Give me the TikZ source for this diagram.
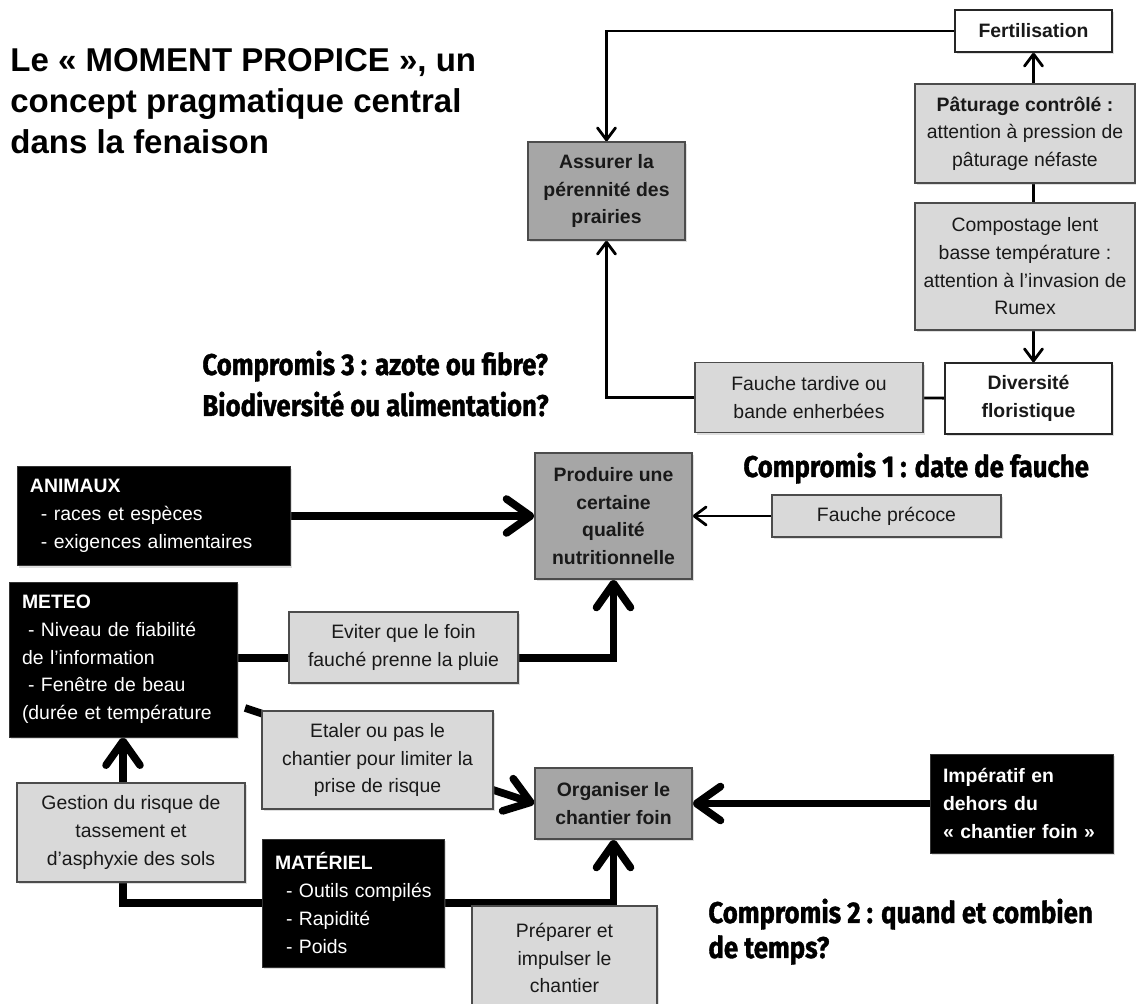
\documentclass[tikz,border=0pt]{standalone}
\usepackage{fontspec}
\setmainfont{Liberation Sans}
\newfontfamily\compfont[FakeStretch=0.86,FakeBold=1.2]{Fira Sans}
\usetikzlibrary{arrows.meta,shadows,backgrounds}
\definecolor{lgray}{RGB}{217,217,217}
\definecolor{dgray}{RGB}{166,166,166}
\begin{document}
\begin{tikzpicture}[x=0.5pt,y=-0.5pt,font=\fontsize{9.7}{13.85}\selectfont,
 bx/.style={draw=black!70,line width=0.7pt,align=center,inner sep=0pt,text=black!90,drop shadow={shadow xshift=1.2pt,shadow yshift=-1.2pt,opacity=0.25}},
 gb/.style={bx,fill=lgray},
 db/.style={bx,fill=dgray,font=\fontsize{9.7}{13.85}\selectfont\bfseries},
 wb/.style={bx,fill=white,draw=black!85,font=\fontsize{9.7}{13.85}\selectfont\bfseries},
 kb/.style={fill=black,text=white,align=left,inner xsep=6.5pt,inner ysep=0pt,draw=black!80,drop shadow={shadow xshift=1.2pt,shadow yshift=-1.2pt,opacity=0.25}},
 ln/.style={line width=1.4pt},
 lnar/.style={ln,-{Straight Barb[length=6pt,width=9pt,round]}},
 tk/.style={line width=3.8pt},
 tkar/.style={tk,-{Straight Barb[length=12pt,width=17pt,round]}},
 cp/.style={anchor=base west,inner sep=0pt,align=left,font=\compfont\bfseries\fontsize{15}{20.5}\selectfont}]
\useasboundingbox (0,0) rectangle (1136,1004);
\node[anchor=base west,inner sep=0pt,align=left,font=\bfseries\fontsize{16.5}{20.5}\selectfont] (title) at (10,154) {Le « MOMENT PROPICE », un\\concept pragmatique central\\dans la fenaison};
\node[cp] (c3) at (202,416) {Compromis 3 : azote ou fibre?\\Biodiversité ou alimentation?};
\node[cp] (c1) at (743,477) {Compromis 1 : date de fauche};
\node[cp,font=\compfont\bfseries\fontsize{15}{17.5}\selectfont] (c2) at (708,958) {Compromis 2 : quand et combien\\de temps?};
\node[wb,minimum width=78.5pt,minimum height=21pt] (fertil) at (1033.5,31) {Fertilisation};
\node[gb,minimum width=110pt,minimum height=49.5pt] (patur) at (1025,133.5) {\textbf{Pâturage contrôlé :}\\attention à pression de\\pâturage néfaste};
\node[gb,minimum width=110pt,minimum height=63.5pt] (compost) at (1025,266.5) {Compostage lent\\basse température :\\attention à l'invasion de\\Rumex};
\node[wb,minimum width=83.5pt,minimum height=35.5pt] (divers) at (1028.5,398.5) {Diversité\\floristique};
\node[gb,minimum width=114pt,minimum height=35pt] (tardive) at (809,397.5) {Fauche tardive ou\\bande enherbées};
\node[db,minimum width=78.5pt,minimum height=49pt] (assurer) at (606.5,191) {Assurer la\\pérennité des\\prairies};
\node[db,minimum width=78.5pt,minimum height=63pt] (produire) at (613.5,516) {Produire une\\certaine\\qualité\\nutritionnelle};
\node[gb,minimum width=114.5pt,minimum height=21pt] (precoce) at (886.5,516) {Fauche précoce};
\node[kb,text width=123.5pt,minimum height=49.5pt] (animaux) at (153.5,516) {\textbf{ANIMAUX}\\\hspace*{5.5pt}- races et espèces\\\hspace*{5.5pt}- exigences alimentaires};
\node[kb,text width=101pt,minimum height=77.5pt] (meteo) at (123,659.5) {\textbf{METEO}\\\hspace*{3pt}- Niveau de fiabilité\\de l’information\\\hspace*{3pt}- Fenêtre de beau\\(durée et température};
\node[gb,minimum width=114.5pt,minimum height=35.5pt] (eviter) at (403.5,647.5) {Eviter que le foin\\fauché prenne la pluie};
\node[gb,minimum width=115.5pt,minimum height=49pt] (etaler) at (377.5,760) {Etaler ou pas le\\chantier pour limiter la\\prise de risque};
\node[gb,minimum width=114pt,minimum height=49.5pt] (gestion) at (131,832.5) {Gestion du risque de\\tassement et\\d’asphyxie des sols};
\node[db,minimum width=78.5pt,minimum height=35.5pt] (organiser) at (613.5,803.5) {Organiser le\\chantier foin};
\node[kb,text width=78.5pt,minimum height=49.5pt,font=\fontsize{9.7}{13.85}\selectfont\bfseries] (imperatif) at (1021.5,803.5) {Impératif en\\dehors du\\\mbox{« chantier foin »}};
\node[kb,text width=78pt,minimum height=64pt] (materiel) at (353,903) {\textbf{MATÉRIEL}\\\mbox{\hspace*{5.5pt}- Outils compilés}\\\hspace*{5.5pt}- Rapidité\\\hspace*{5.5pt}- Poids};
\node[gb,minimum width=92.5pt,minimum height=52pt] (preparer) at (564.5,958) {Préparer et\\impulser le\\chantier};
\begin{pgfonlayer}{background}
\draw[lnar] (fertil.west) -| (assurer.north);
\draw[lnar] (tardive.west) -| (assurer.south);
\draw[ln] (divers) -- (tardive);
\draw[lnar] (patur.north -| fertil) -- (fertil.south);
\draw[ln] (patur.south -| fertil) -- (compost.north -| fertil);
\draw[lnar] (compost.south -| fertil) -- (divers.north -| fertil);
\draw[tkar] (animaux) -- (produire);
\draw[lnar] (precoce) -- (produire);
\coordinate (mrain) at (0,658); \coordinate (mrisk) at (245,708); \coordinate (msol) at (0,903);
\draw[tk] (meteo.east |- mrain) -- (eviter.west |- mrain);
\draw[tkar] (eviter.east |- mrain) -| (produire.south);
\draw[tkar] (mrisk) -- (organiser.west);
\draw[tkar] (gestion.north -| meteo) -- (meteo.south);
\draw[tkar] (gestion.south -| meteo) |- (organiser.south |- msol) -- (organiser.south);
\draw[tkar] (imperatif) -- (organiser);
\end{pgfonlayer}
\end{tikzpicture}
\end{document}
